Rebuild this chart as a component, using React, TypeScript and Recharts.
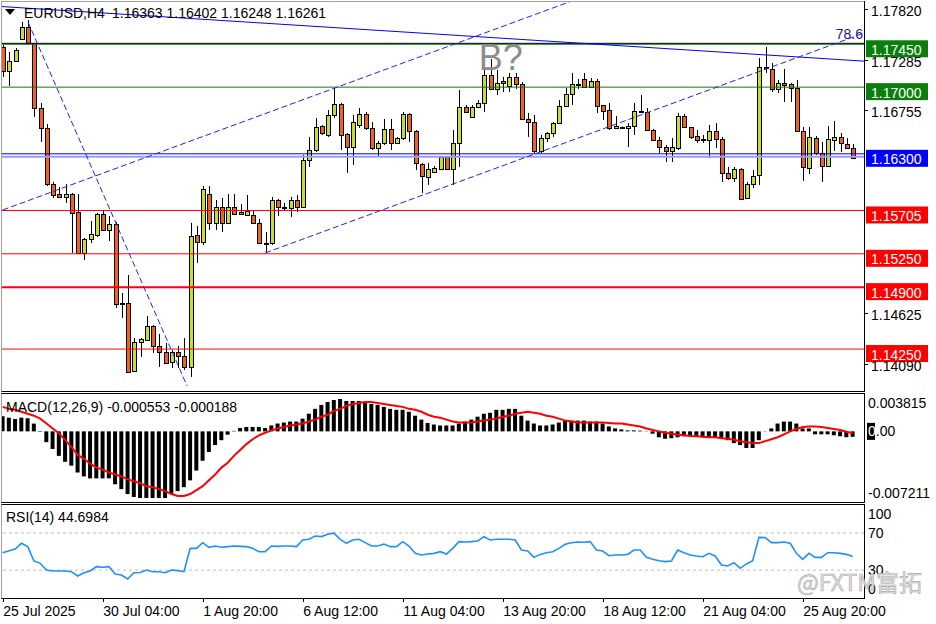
import { ComposedChart, Bar, Line, XAxis, YAxis, ReferenceLine, ReferenceDot } from "recharts";

const FONT = "'Liberation Sans', Arial, sans-serif";
const BULL = "#c9dc2f", BEAR = "#f2621f", GREEN = "#0b7f0b", BLUE = "#0000ff", RED = "#ff0000", TREND = "#2020ff";
const W = 936, AXIS_W = 72;
const MAIN_H = 393, MACD_TOP = 394, MACD_H = 108, RSI_TOP = 505, RSI_PLOT_H = 93, TIME_H = 26;
const X_DOMAIN = [-0.112, 137.808];
const PRICE_DOMAIN = [1.13799, 1.17894];
const MACD_DOMAIN = [-0.007211, 0.003815];

// EURUSD H4, bars 0..136 (25 Jul -> 27 Aug 2025)
const OPEN = [
  1.17425, 1.1717, 1.17275, 1.17506, 1.17632, 1.17464, 1.16781, 1.16571, 1.15983, 1.15878,
  1.15847, 1.15878, 1.15689, 1.15259, 1.15406, 1.15448, 1.15668, 1.155, 1.15563, 1.14728,
  1.14734, 1.1402, 1.14324, 1.14345, 1.14492, 1.14282, 1.14219, 1.14114, 1.14219, 1.14177,
  1.14062, 1.15448, 1.15374, 1.15878, 1.15574, 1.15742, 1.15574, 1.15742, 1.15689, 1.15658,
  1.15658, 1.15574, 1.15364, 1.15364, 1.15815, 1.15742, 1.15731, 1.15815, 1.15742, 1.16235,
  1.1634, 1.16592, 1.16498, 1.16708, 1.16823, 1.16508, 1.16372, 1.16603, 1.16718, 1.16571,
  1.16361, 1.16414, 1.16561, 1.16414, 1.16466, 1.16718, 1.1654, 1.16193, 1.16057, 1.16109,
  1.16141, 1.16267, 1.16141, 1.16414, 1.16792, 1.16687, 1.16792, 1.16834, 1.17128, 1.16981,
  1.17065, 1.17012, 1.17107, 1.17033, 1.16666, 1.16634, 1.1633, 1.16466, 1.16519, 1.16624,
  1.16802, 1.16928, 1.17033, 1.17086, 1.17002, 1.17065, 1.16813, 1.1676, 1.16571, 1.16582,
  1.16576, 1.16592, 1.1675, 1.16739, 1.1655, 1.16445, 1.16372, 1.1633, 1.16361, 1.16697,
  1.16582, 1.16487, 1.16456, 1.16445, 1.1654, 1.16456, 1.16099, 1.16046, 1.16141, 1.15836,
  1.15983, 1.16078, 1.17212, 1.17191, 1.16981, 1.17044, 1.17033, 1.16991, 1.1654, 1.16151,
  1.16466, 1.16309, 1.16172, 1.16445, 1.16477, 1.16403, 1.16363,
];
const HIGH = [
  1.17443, 1.17369, 1.17411, 1.17684, 1.17705, 1.17464, 1.16834, 1.16613, 1.16004, 1.15952,
  1.15983, 1.15889, 1.15878, 1.15416, 1.15595, 1.15679, 1.1571, 1.15647, 1.15584, 1.14839,
  1.15028, 1.14366, 1.14366, 1.14597, 1.14503, 1.14408, 1.14314, 1.1424, 1.14282, 1.14366,
  1.15574, 1.15542, 1.15962, 1.15962, 1.15815, 1.15836, 1.15878, 1.15878, 1.15773, 1.15868,
  1.1571, 1.15616, 1.15479, 1.15847, 1.15826, 1.15784, 1.15847, 1.15868, 1.16288, 1.16477,
  1.16676, 1.16603, 1.1676, 1.16991, 1.16834, 1.16519, 1.16708, 1.16781, 1.16739, 1.16634,
  1.16435, 1.16666, 1.16666, 1.16477, 1.16739, 1.16729, 1.1655, 1.16204, 1.16204, 1.16172,
  1.16267, 1.16277, 1.1655, 1.1697, 1.16813, 1.16813, 1.16865, 1.1718, 1.17296, 1.1718,
  1.17107, 1.17149, 1.17149, 1.17054, 1.16729, 1.16708, 1.16498, 1.16529, 1.16634, 1.16865,
  1.16991, 1.17149, 1.17086, 1.17149, 1.17096, 1.17086, 1.16813, 1.16834, 1.16697, 1.16587,
  1.16624, 1.16834, 1.16918, 1.16781, 1.16561, 1.16477, 1.16393, 1.16466, 1.16729, 1.16718,
  1.16582, 1.1655, 1.16498, 1.16603, 1.16624, 1.16477, 1.16162, 1.16162, 1.16151, 1.16004,
  1.1613, 1.17306, 1.17422, 1.17254, 1.17075, 1.17191, 1.17044, 1.17075, 1.16582, 1.16582,
  1.16487, 1.16424, 1.16592, 1.16645, 1.16519, 1.16466, 1.16402,
];
const LOW = [
  1.17107, 1.17012, 1.17264, 1.17495, 1.17453, 1.16687, 1.16424, 1.15962, 1.15836, 1.15836,
  1.15784, 1.15259, 1.15248, 1.15185, 1.15364, 1.15427, 1.1549, 1.15385, 1.14681, 1.14576,
  1.13999, 1.14009, 1.14167, 1.14335, 1.14209, 1.14062, 1.14093, 1.14051, 1.14051, 1.1403,
  1.13957, 1.15154, 1.15343, 1.155, 1.155, 1.15479, 1.15563, 1.15658, 1.15658, 1.15647,
  1.15563, 1.15353, 1.15259, 1.15343, 1.15647, 1.1571, 1.15637, 1.15689, 1.15731, 1.16162,
  1.16319, 1.16498, 1.16477, 1.16676, 1.1634, 1.16099, 1.16183, 1.16571, 1.1655, 1.1634,
  1.16267, 1.16393, 1.1634, 1.16403, 1.16445, 1.16424, 1.1613, 1.15889, 1.15973, 1.16099,
  1.1613, 1.1613, 1.15973, 1.16162, 1.16729, 1.16676, 1.16781, 1.16739, 1.1697, 1.16918,
  1.16949, 1.16949, 1.16981, 1.16655, 1.16477, 1.16309, 1.16309, 1.16424, 1.16477, 1.16613,
  1.16792, 1.16813, 1.16981, 1.16991, 1.16991, 1.16729, 1.16655, 1.1655, 1.1656, 1.16577,
  1.16372, 1.16498, 1.16739, 1.1654, 1.16435, 1.16309, 1.16214, 1.16214, 1.1634, 1.16571,
  1.16456, 1.16414, 1.16414, 1.16256, 1.16361, 1.16004, 1.16025, 1.16004, 1.15815, 1.15826,
  1.15941, 1.15973, 1.17149, 1.16949, 1.16939, 1.16844, 1.16844, 1.16529, 1.16015, 1.16088,
  1.16288, 1.16004, 1.16162, 1.1633, 1.16319, 1.16351, 1.16248,
];
const CLOSE = [
  1.1717, 1.17275, 1.1739, 1.17632, 1.17464, 1.16781, 1.16571, 1.15983, 1.15868, 1.15847,
  1.15878, 1.15679, 1.15259, 1.15406, 1.15458, 1.15668, 1.155, 1.15563, 1.14723, 1.14734,
  1.14009, 1.14324, 1.14356, 1.14492, 1.14282, 1.14219, 1.14104, 1.14219, 1.14177, 1.14062,
  1.15437, 1.15374, 1.15931, 1.15574, 1.15742, 1.15574, 1.15742, 1.15668, 1.15668, 1.157,
  1.15574, 1.15364, 1.15358, 1.15815, 1.15742, 1.15731, 1.15815, 1.15742, 1.16235, 1.1634,
  1.16582, 1.16519, 1.16708, 1.16823, 1.16498, 1.16372, 1.16634, 1.16718, 1.16571, 1.16361,
  1.16414, 1.16561, 1.16414, 1.16466, 1.16718, 1.1654, 1.16204, 1.16067, 1.16141, 1.16151,
  1.16267, 1.16141, 1.16414, 1.16792, 1.16739, 1.16792, 1.16834, 1.17128, 1.16981, 1.17044,
  1.17044, 1.17107, 1.17033, 1.16666, 1.16634, 1.1633, 1.16466, 1.16519, 1.16624, 1.16802,
  1.16928, 1.17033, 1.17028, 1.17002, 1.17065, 1.16802, 1.1675, 1.16571, 1.16592, 1.16582,
  1.16597, 1.1675, 1.16744, 1.1655, 1.16445, 1.16372, 1.1633, 1.16372, 1.16697, 1.16582,
  1.16477, 1.1645, 1.1645, 1.1654, 1.16456, 1.16099, 1.16046, 1.16141, 1.15826, 1.15983,
  1.16067, 1.17212, 1.17206, 1.16981, 1.17044, 1.17028, 1.16991, 1.1654, 1.16162, 1.16477,
  1.16309, 1.16172, 1.16456, 1.16477, 1.16414, 1.16361, 1.16261,
];
const MACD_HIST = [
  0.00155, 0.0014, 0.00127, 0.0014, 0.00134, 0.00079, -0.00005, -0.0011, -0.0018, -0.0025,
  -0.0031, -0.0035, -0.0042, -0.0046, -0.0048, -0.0048, -0.0048, -0.0048, -0.0054, -0.0059,
  -0.0064, -0.0067, -0.0068, -0.0068, -0.0068, -0.0068, -0.0068, -0.0064, -0.0061, -0.0057,
  -0.005, -0.004, -0.003, -0.0021, -0.0014, -0.0009, -0.00034, 0.00005, 0.00034, 0.00045,
  0.00045, 0.00045, 0.00034, 0.0006, 0.0008, 0.0009, 0.001, 0.001, 0.0013, 0.0018,
  0.0023, 0.0027, 0.003, 0.0032, 0.0033, 0.0031, 0.0031, 0.0031, 0.0029, 0.0028,
  0.0027, 0.0025, 0.0023, 0.0022, 0.0022, 0.002, 0.0016, 0.0012, 0.00086, 0.0007,
  0.0006, 0.0006, 0.0006, 0.0008, 0.001, 0.0012, 0.0015, 0.0018, 0.0019, 0.0022,
  0.0022, 0.0023, 0.0023, 0.0016, 0.0011, 0.0008, 0.0006, 0.0006, 0.0007, 0.0009,
  0.0011, 0.0011, 0.0011, 0.0011, 0.001, 0.001, 0.0008, 0.0005, 0.0003, 0.0002,
  0.0001, 0.0001, 0.00007, 0.00002, -0.00024, -0.0006, -0.00075, -0.0007, -0.0006, -0.0005,
  -0.0005, -0.0005, -0.0006, -0.0006, -0.0006, -0.0007, -0.0009, -0.0012, -0.0014, -0.0017,
  -0.0017, -0.0009, 0.00002, 0.0003, 0.0008, 0.001, 0.001, 0.0008, 0.0003, 0.0003,
  -0.0003, -0.0003, -0.0003, -0.0004, -0.0005, -0.0006, -0.000553,
];
const MACD_SIGNAL = [
  0.0025, 0.0023, 0.0022, 0.002, 0.0018, 0.0016, 0.0013, 0.0008, 0.0003, -0.0002,
  -0.0009, -0.0016, -0.0024, -0.0028, -0.0033, -0.0037, -0.0039, -0.0042, -0.0044, -0.0046,
  -0.0049, -0.0051, -0.0053, -0.0056, -0.0057, -0.0059, -0.0061, -0.0064, -0.0066, -0.0066,
  -0.0064, -0.006, -0.0056, -0.005, -0.0044, -0.0037, -0.0032, -0.0025, -0.0019, -0.0013,
  -0.0008, -0.0004, -0.00014, 0.0001, 0.0003, 0.00045, 0.0006, 0.0007, 0.0008, 0.001,
  0.0012, 0.0015, 0.0017, 0.0021, 0.0023, 0.0026, 0.0028, 0.0029, 0.003, 0.003,
  0.0029, 0.0028, 0.0027, 0.0026, 0.0025, 0.0023, 0.0022, 0.002, 0.0017, 0.0015,
  0.0014, 0.0012, 0.001, 0.0009, 0.0009, 0.0009, 0.001, 0.0011, 0.0012, 0.0013,
  0.0015, 0.0016, 0.0018, 0.0019, 0.002, 0.0019, 0.0018, 0.0016, 0.0015, 0.0013,
  0.0011, 0.001, 0.0009, 0.0009, 0.0009, 0.0009, 0.0009, 0.00086, 0.0008, 0.0008,
  0.0007, 0.0006, 0.0005, 0.0003, 0.00014, 0, -0.00014, -0.00024, -0.00034, -0.0004,
  -0.00048, -0.0005, -0.00055, -0.0006, -0.0006, -0.0007, -0.00075, -0.00086, -0.001, -0.0011,
  -0.0012, -0.0012, -0.001, -0.0008, -0.0006, -0.0003, 0, 0.00024, 0.00045, 0.0005,
  0.0005, 0.00045, 0.00034, 0.00024, 0.00014, -0.00004, -0.000188,
];
const RSI = [
  48.7, 50.9, 52.7, 58.8, 55.2, 39.8, 37.3, 30.1, 29, 29,
  29, 28.3, 23.7, 27.2, 29, 33.7, 33, 33.7, 25.8, 24.7,
  20.4, 27.2, 27.5, 30.1, 28.3, 28.3, 27.2, 30.1, 29.4, 28.3,
  53.4, 53.4, 59.5, 54.5, 55.9, 54.5, 55.2, 55.9, 55.5, 55.2,
  53.4, 49.8, 49.8, 55.9, 55.5, 55.9, 55.9, 55.2, 62.4, 63.1,
  66.7, 66, 68.5, 69.7, 63.1, 58.8, 62.4, 63.1, 59.5, 55.9,
  55.9, 58, 55.2, 55.2, 60.6, 55.9, 48, 46.2, 47.3, 48,
  49.8, 47.3, 53.4, 60.6, 60.2, 60.6, 61.3, 66, 62.4, 63.1,
  63.1, 63.1, 62.4, 51.6, 50.5, 43.7, 46.9, 48.7, 49.8, 53.4,
  57.7, 59.5, 60.2, 59.9, 60.6, 51.6, 50.5, 45.5, 46.2, 46.2,
  46.9, 51.6, 51.6, 43.7, 41.6, 40.1, 39.1, 39.8, 51.6, 48.7,
  46.2, 45.2, 44.4, 48, 45.2, 35.5, 34.4, 38, 31.9, 36.6,
  40.1, 65.2, 64.9, 59.5, 59.5, 60.2, 58.8, 48, 41.6, 48,
  43.7, 43.7, 48.7, 48.7, 48, 46.9, 44.7,
];

const TIME_TICKS = [0, 16, 32, 48, 64, 80, 96, 112, 128];
const TIME_LABELS = ["25 Jul 2025", "30 Jul 04:00", "1 Aug 20:00", "6 Aug 12:00", "11 Aug 04:00", "13 Aug 20:00", "18 Aug 12:00", "21 Aug 04:00", "25 Aug 20:00"];
const PRICE_TICKS = [1.1782, 1.17285, 1.16755, 1.14625, 1.1409];
const MACD_TICKS = [0.003815, 0, -0.007211];
const RSI_TICKS = [100, 70, 30, 0];
const RSI_LEVELS = [70, 30];

// horizontal levels drawn by the analyst
const LEVELS = [1.1745, 1.17, 1.163, 1.15705, 1.1525, 1.149, 1.1425];
const LEVEL_COLORS = [GREEN, GREEN, BLUE, RED, RED, RED, RED];
const FIB_786 = 1.1746;
const SUPPORT_SHADOW = 1.16268;
// trend lines as [bar, price] pairs
const FIB_LINE = [[-0.112, 1.17846], [137.808, 1.17273]];
const DROP_LINE = [[4.05, 1.17684], [29.5, 1.13862]];
const CHANNEL_TOP = [[0, 1.1571], [100, 1.1812]];
const CHANNEL_BOTTOM = [[42, 1.15259], [137.808, 1.17568]];
const B_POINT = [79.7, 1.17317];

const data = OPEN.map((o, i) => ({
  i, o, h: HIGH[i], l: LOW[i], c: CLOSE[i],
  macd: MACD_HIST[i], signal: MACD_SIGNAL[i], rsi: RSI[i],
}));

function Candle(p: any) {
  const { x, y, width, height, payload: d } = p;
  if (x == null || !d) return null;
  const top = Math.min(y, y + height), span = Math.abs(height);
  const k = d.h > d.l ? span / (d.h - d.l) : 0;
  const cx = Math.round(x + width / 2) + 0.5;
  const yo = top + (d.h - d.o) * k, yc = top + (d.h - d.c) * k;
  const bTop = Math.round(Math.min(yo, yc)) + 0.5;
  const bH = Math.max(Math.round(Math.abs(yo - yc)), 1);
  return (
    <g>
      <line x1={cx} x2={cx} y1={top} y2={top + span} stroke="#000" />
      <rect x={cx - 2} y={bTop} width={4} height={bH} fill={d.c >= d.o ? BULL : BEAR} stroke="#000" />
    </g>
  );
}

function PriceTick(p: any) {
  const y = Math.round(p.y) + 0.5;
  return (
    <g>
      <line x1={864} x2={868} y1={y} y2={y} stroke="#000" />
      <text x={871} y={p.y + 7} fontSize={14} fill="#000" fontFamily={FONT}>{Number(p.payload.value).toFixed(5)}</text>
    </g>
  );
}

function LevelBox(p: any) {
  const { viewBox, price, bg } = p;
  if (!viewBox) return null;
  const y = viewBox.y;
  return (
    <g>
      <rect x={866} y={y - 4} width={62} height={17} fill={bg} />
      <text x={871} y={y + 10.5} fontSize={14} fill="#fff" fontFamily={FONT}>{price.toFixed(5)}</text>
    </g>
  );
}

function FibLabel(p: any) {
  const { viewBox, text } = p;
  if (!viewBox) return null;
  return <text x={viewBox.x + viewBox.width - 1} y={viewBox.y - 4} textAnchor="end" fontSize={14} fill="#1a1a7a" fontFamily={FONT}>{text}</text>;
}

function BLabel(p: any) {
  const { viewBox } = p;
  if (!viewBox) return null;
  const cx = viewBox.x + viewBox.width / 2, cy = viewBox.y + viewBox.height / 2;
  return <text x={cx} y={cy + 13} textAnchor="middle" fontSize={36} fill="#8c8c8c" fontFamily={FONT}>B?</text>;
}

function MacdTick(p: any) {
  const v = p.payload.value, y = p.y;
  if (v === 0)
    return (
      <g>
        <rect x={867} y={y - 8.5} width={8} height={17} fill="#000" />
        <text x={868} y={y + 5} fontSize={14} fontFamily={FONT}><tspan fill="#fff">0</tspan><tspan fill="#000">.00</tspan></text>
      </g>
    );
  return <text x={868} y={v > 0 ? y + 14 : y - 4} fontSize={14} fill="#000" fontFamily={FONT}>{v.toFixed(6)}</text>;
}

function RsiTick(p: any) {
  const v = p.payload.value, y = p.y;
  const ty = v === 100 ? y + 14 : v === 0 ? y - 4 : y + 5;
  return <text x={868} y={ty} fontSize={14} fill="#000" fontFamily={FONT}>{v}</text>;
}

function TimeTick(p: any) {
  const k = TIME_TICKS.indexOf(p.payload.value);
  const x = Math.round(p.x) + 0.5;
  return (
    <g>
      <line x1={x} x2={x} y1={RSI_PLOT_H} y2={RSI_PLOT_H + 4} stroke="#000" />
      <text x={p.x + 0.5} y={RSI_PLOT_H + 18} fontSize={14} fill="#000" fontFamily={FONT}>{TIME_LABELS[k]}</text>
    </g>
  );
}

const seg = (s: number[][]) => [{ x: s[0][0], y: s[0][1] }, { x: s[1][0], y: s[1][1] }];

function Frame({ top, bottom, grayTop }: { top: number; bottom: number; grayTop?: boolean }) {
  return (
    <g fill="none">
      <line x1={1.5} x2={1.5} y1={top} y2={bottom} stroke="#a0a0a0" />
      <line x1={1.5} x2={864.5} y1={top + 0.5} y2={top + 0.5} stroke={grayTop ? "#a0a0a0" : "#000"} />
      <line x1={864.5} x2={864.5} y1={top} y2={bottom} stroke="#000" />
      <line x1={1.5} x2={864.5} y1={bottom - 0.5} y2={bottom - 0.5} stroke="#000" />
    </g>
  );
}

export default function App() {
  return (
    <div style={{ position: "absolute", left: 0, top: 0, width: W, height: 624, background: "#fff", overflow: "hidden", fontFamily: FONT }}>
      <div style={{ position: "absolute", left: 0, top: 0 }}>
        <ComposedChart width={W} height={MAIN_H} data={data} margin={{ top: 2, right: 0, bottom: 1, left: 2 }}>
          <XAxis dataKey="i" type="number" domain={X_DOMAIN} allowDataOverflow hide />
          <YAxis orientation="right" width={AXIS_W} domain={PRICE_DOMAIN} allowDataOverflow ticks={PRICE_TICKS} interval={0} axisLine={false} tickLine={false} tick={PriceTick} />
          <ReferenceLine y={SUPPORT_SHADOW} stroke="#9c9cf2" strokeWidth={2} />
          {LEVELS.map((v, k) => (
            <ReferenceLine key={k} y={v} stroke={LEVEL_COLORS[k]} strokeWidth={v === 1.149 ? 2 : 1} label={<LevelBox price={v} bg={LEVEL_COLORS[k]} />} />
          ))}
          <ReferenceLine y={FIB_786} stroke="#000" label={<FibLabel text="78.6" />} />
          <ReferenceLine segment={seg(FIB_LINE)} stroke={BLUE} ifOverflow="hidden" />
          <ReferenceLine segment={seg(DROP_LINE)} stroke={TREND} strokeDasharray="6 3" ifOverflow="hidden" />
          <ReferenceLine segment={seg(CHANNEL_TOP)} stroke={TREND} strokeDasharray="6 3" ifOverflow="hidden" />
          <ReferenceLine segment={seg(CHANNEL_BOTTOM)} stroke={TREND} strokeDasharray="6 3" ifOverflow="hidden" />
          <Bar dataKey={(d: any) => [d.l, d.h]} shape={<Candle />} barSize={5} isAnimationActive={false} />
          <ReferenceDot x={B_POINT[0]} y={B_POINT[1]} r={1} fill="none" stroke="none" label={<BLabel />} />
        </ComposedChart>
      </div>

      <div style={{ position: "absolute", left: 0, top: MACD_TOP }}>
        <ComposedChart width={W} height={MACD_H} data={data} margin={{ top: 0, right: 0, bottom: 0, left: 2 }}>
          <XAxis dataKey="i" type="number" domain={X_DOMAIN} allowDataOverflow hide />
          <YAxis orientation="right" width={AXIS_W} domain={MACD_DOMAIN} allowDataOverflow ticks={MACD_TICKS} interval={0} axisLine={false} tickLine={false} tick={MacdTick} />
          <Bar dataKey="macd" fill="#000" barSize={4} isAnimationActive={false} />
          <Line dataKey="signal" stroke={RED} strokeWidth={2} dot={false} type="linear" isAnimationActive={false} />
        </ComposedChart>
      </div>

      <div style={{ position: "absolute", left: 0, top: RSI_TOP }}>
        <ComposedChart width={W} height={RSI_PLOT_H + TIME_H} data={data} margin={{ top: 0, right: 0, bottom: 0, left: 2 }}>
          <XAxis dataKey="i" type="number" domain={X_DOMAIN} allowDataOverflow ticks={TIME_TICKS} interval={0} height={TIME_H} axisLine={false} tickLine={false} tick={TimeTick} />
          <YAxis orientation="right" width={AXIS_W} domain={[0, 100]} allowDataOverflow ticks={RSI_TICKS} interval={0} axisLine={false} tickLine={false} tick={RsiTick} />
          {RSI_LEVELS.map((v) => (
            <ReferenceLine key={v} y={v} stroke="#bdbdbd" strokeDasharray="3 3" />
          ))}
          <Line dataKey="rsi" stroke="#1e90ff" strokeWidth={1.6} dot={false} type="linear" isAnimationActive={false} />
        </ComposedChart>
      </div>

      <svg width={W} height={624} style={{ position: "absolute", left: 0, top: 0, pointerEvents: "none" }} fontFamily={FONT}>
        <Frame top={1} bottom={392} grayTop />
        <Frame top={393} bottom={503} />
        <Frame top={504} bottom={599} />
        <polygon points="5,9 15,9 10,15" fill="#000" />
        <text y={18} fontSize={14} fill="#000">
          <tspan x={24}>EURUSD,H4</tspan>
          <tspan x={112}>1.16363 1.16402 1.16248 1.16261</tspan>
        </text>
        <text x={6} y={411.5} fontSize={14} fill="#000">MACD(12,26,9) -0.000553 -0.000188</text>
        <text x={6} y={521.5} fontSize={14} fill="#000">RSI(14) 44.6984</text>
        <text x={797} y={591} fontSize={23} fill="#e2e2e2" stroke="#aaaaaa" strokeWidth={0.6} fontFamily="'Noto Sans CJK SC', sans-serif">@FXTM富拓</text>
      </svg>
    </div>
  );
}
